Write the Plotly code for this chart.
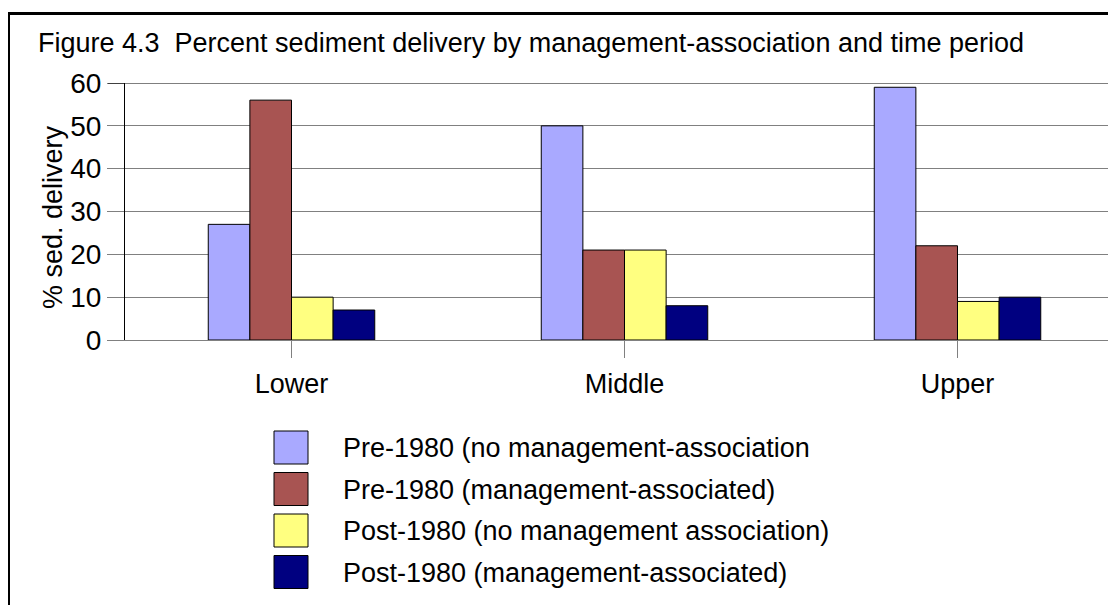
import plotly.graph_objects as go

# ---- data ----
categories = ["Lower", "Middle", "Upper"]
series_names = [
    "Pre-1980 (no management-association",
    "Pre-1980 (management-associated)",
    "Post-1980 (no management association)",
    "Post-1980 (management-associated)",
]
pre_no_mgmt = [27, 50, 59]
pre_mgmt = [56, 21, 22]
post_no_mgmt = [10, 21, 9]
post_mgmt = [7, 8, 10]
series_values = [pre_no_mgmt, pre_mgmt, post_no_mgmt, post_mgmt]
colors = ["#A9A9FF", "#A85452", "#FFFF80", "#000080"]
y_ticks = [0, 10, 20, 30, 40, 50, 60]

FONT = "Arial, Liberation Sans, sans-serif"
OFF = 8  # page body margin
W, H = 1116 - OFF, 605 - OFF
ML, MR, MT = 125 - OFF, 0, 83 - OFF
MB = H - (340 - OFF)
PW, PH = W - ML - MR, H - MT - MB


def px_x(px):
    """reference page pixel -> paper x"""
    return (px - OFF - ML) / PW


def px_y(py):
    """reference page pixel -> paper y"""
    return (H - MB - (py - OFF)) / PH


fig = go.Figure()
for name, vals, col in zip(series_names, series_values, colors):
    fig.add_trace(go.Bar(
        x=categories, y=vals, name=name,
        marker=dict(color=col, line=dict(color="#000000", width=1)),
        showlegend=False,
    ))

shapes = []
annotations = []

# frame (left and top border of the chart area)
shapes.append(dict(type="line", xref="paper", yref="paper",
                   x0=px_x(8), x1=px_x(1130), y0=px_y(13.5), y1=px_y(13.5),
                   line=dict(color="black", width=3)))
shapes.append(dict(type="line", xref="paper", yref="paper",
                   x0=px_x(8.5), x1=px_x(8.5), y0=px_y(12), y1=px_y(620),
                   line=dict(color="black", width=3)))
# top plot border at 60
shapes.append(dict(type="line", xref="paper", yref="y",
                   x0=px_x(108), x1=1.0, y0=60, y1=60,
                   line=dict(color="black", width=1)))

# manual legend
for i, (name, col) in enumerate(zip(series_names, colors)):
    top = 431 + i * 41.5
    shapes.append(dict(type="rect", xref="paper", yref="paper",
                       x0=px_x(274), x1=px_x(308), y0=px_y(top), y1=px_y(top + 33),
                       fillcolor=col, line=dict(color="#000000", width=1)))
    annotations.append(dict(xref="paper", yref="paper", x=px_x(341), y=px_y(top + 17),
                            text=name, showarrow=False, xanchor="left", yanchor="middle",
                            font=dict(family=FONT, size=27, color="black")))

# y-axis title
annotations.append(dict(xref="paper", yref="paper", x=px_x(53), y=px_y(217),
                        text="% sed. delivery", textangle=-90, showarrow=False,
                        xanchor="center", yanchor="middle",
                        font=dict(family=FONT, size=27, color="black")))

fig.update_layout(
    width=W, height=H,
    margin=dict(l=ML, r=MR, t=MT, b=MB),
    paper_bgcolor="white", plot_bgcolor="white",
    barmode="group", bargap=0.5, bargroupgap=0,
    title=dict(text="Figure 4.3\u00a0 Percent sediment delivery by management-association and time period",
               x=(38 - OFF) / W, xanchor="left", y=1 - (43 - OFF) / H, yanchor="middle",
               font=dict(family=FONT, size=27, color="black")),
    font=dict(family=FONT, size=27, color="black"),
    shapes=shapes, annotations=annotations,
    showlegend=False,
)
fig.update_xaxes(
    range=[-0.5, -0.5 + PW / 333.0],
    showline=True, linecolor="#808080", linewidth=1,
    ticks="outside", ticklen=17, tickcolor="#808080",
    tickfont=dict(family=FONT, size=27, color="black"),
    ticklabelstandoff=3,
    showgrid=False, zeroline=False,
)
fig.update_yaxes(
    range=[0, 60], tickvals=y_ticks,
    showline=True, linecolor="black", linewidth=1,
    ticks="outside", ticklen=17, tickcolor="#808080",
    showgrid=True, gridcolor="#808080", gridwidth=1,
    zeroline=False,
    tickfont=dict(family=FONT, size=28, color="black"),
)

fig.write_html("out.html")
